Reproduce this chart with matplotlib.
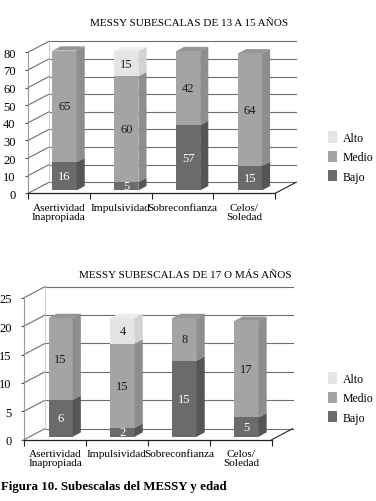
import matplotlib
matplotlib.use('Agg')
import matplotlib.pyplot as plt
from matplotlib.patches import Polygon, Patch

plt.rcParams['font.family'] = ['Liberation Serif', 'DejaVu Serif']

# ── datos ──────────────────────────────────────────────
categorias = ['Asertividad\nInapropiada', 'Impulsividad', 'Sobreconfianza', 'Celos/\nSoledad']
series = ['Bajo', 'Medio', 'Alto']

# 13 a 15 años (alturas, etiquetas tal como aparecen)
bajo_13 = [16, 4.7, 37, 13.9]
medio_13 = [63.3, 60, 42, 63.8]
alto_13 = [0, 14.3, 0, 0]
bajo_lbl_13 = ['16', '5', '57', '15']
medio_lbl_13 = ['65', '60', '42', '64']
alto_lbl_13 = ['', '15', '', '']
yticks_13 = [0, 10, 20, 30, 40, 50, 60, 70, 80]

# 17 o más años
bajo_17 = [6.5, 1.6, 13.4, 3.4]
medio_17 = [14.4, 14.8, 7.5, 17.0]
alto_17 = [0, 4.5, 0, 0]
bajo_lbl_17 = ['6', '2', '15', '5']
medio_lbl_17 = ['15', '15', '8', '17']
alto_lbl_17 = ['', '4', '', '']
yticks_17 = [0, 5, 10, 15, 20, 25]

# colores: (frente, lado, arriba)
COLORES = {
    'Bajo': ('#6b6b6b', '#555555', '#5e5e5e'),
    'Medio': ('#a4a4a4', '#8e8e8e', '#969696'),
    'Alto': ('#e5e5e5', '#d2d2d2', '#ededed'),
}
TXT_COLOR = {'Bajo': 'white', 'Medio': '#1a1a1a', 'Alto': '#1a1a1a'}

GRID = '#6e6e6e'
W = 0.39          # ancho de barra (unidades de categoría)
F1, F2 = 0.27, 0.66  # profundidad de la barra (fracción)
DX = 0.338        # desplazamiento oblicuo en x


def barra_3d(ax, x0, y0, y1, col, dy, top):
    xl, xr = x0 - W / 2, x0 + W / 2
    p = lambda x, y, f: (x + f * DX, y + f * dy)
    frente, lado, arriba = col
    ax.add_patch(Polygon([p(xl, y0, F1), p(xr, y0, F1), p(xr, y1, F1), p(xl, y1, F1)],
                         closed=True, facecolor=frente, edgecolor='none', zorder=3))
    ax.add_patch(Polygon([p(xr, y0, F1), p(xr, y0, F2), p(xr, y1, F2), p(xr, y1, F1)],
                         closed=True, facecolor=lado, edgecolor='none', zorder=3))
    if top:
        ax.add_patch(Polygon([p(xl, y1, F1), p(xr, y1, F1), p(xr, y1, F2), p(xl, y1, F2)],
                             closed=True, facecolor=arriba, edgecolor='none', zorder=3))


def grafico(ax, titulo, bajo, medio, alto, lbls, yticks, title_pad):
    ymax = yticks[-1]
    dy = 0.078 * ymax
    n = len(categorias)

    # paredes: rejilla del fondo y diagonales laterales
    for v in yticks:
        ax.plot([0, DX], [v, v + dy], color=GRID, lw=0.8, zorder=1, clip_on=False)
        ax.plot([DX, n + DX], [v + dy, v + dy], color=GRID, lw=0.8, zorder=1, clip_on=False)
    ax.plot([DX, DX], [dy, ymax + dy], color='#c8c8c8', lw=0.6, zorder=1)
    ax.plot([n, n + DX], [0, dy], color='#222222', lw=0.8, zorder=1, clip_on=False)

    valores = {'Bajo': bajo, 'Medio': medio, 'Alto': alto}
    for i in range(n):
        base = 0
        tops = [s for s in series if valores[s][i] > 0]
        for s in series:
            h = valores[s][i]
            if h <= 0:
                continue
            barra_3d(ax, i + 0.5, base, base + h, COLORES[s], dy, s == tops[-1])
            ax.text(i + 0.5 + F1 * DX, base + h / 2 + F1 * dy, lbls[s][i],
                    ha='center', va='center', fontsize=9, color=TXT_COLOR[s], zorder=4)
            base += h

    ax.set_xlim(0, n + DX)
    ax.set_ylim(0, ymax + dy)
    for side in ['top', 'right']:
        ax.spines[side].set_visible(False)
    ax.spines['left'].set_bounds(0, ymax)
    ax.spines['left'].set_color('#9a9a9a')
    ax.spines['bottom'].set_bounds(0, n)
    ax.spines['bottom'].set_color('#222222')
    ax.spines['bottom'].set_linewidth(0.9)

    ax.set_yticks(yticks)
    ax.tick_params(axis='y', length=2, pad=7, labelsize=9, color='#555555')
    ax.set_xticks(range(n + 1))
    ax.set_xticklabels([''] * (n + 1))
    ax.set_xticks([i + 0.5 for i in range(n)], minor=True)
    ax.set_xticklabels(categorias, minor=True, fontsize=8.1, linespacing=0.95)
    ax.tick_params(axis='x', which='major', length=4, direction='out', color='#222222')
    ax.tick_params(axis='x', which='minor', length=0, pad=7)
    ax.set_title(titulo, fontsize=8, pad=title_pad, x=0.6)

    handles = [Patch(facecolor=COLORES[s][0], edgecolor='none', label=s) for s in ['Alto', 'Medio', 'Bajo']]
    return handles


fig = plt.figure(figsize=(3.76, 5.02), dpi=100)
ax1 = fig.add_axes([0.0745, 0.6129, 0.7128, 0.3028])
ax2 = fig.add_axes([0.0638, 0.1221, 0.7146, 0.3048])

h = grafico(ax1, 'MESSY SUBESCALAS DE 13 A 15 AÑOS', bajo_13, medio_13, alto_13,
            {'Bajo': bajo_lbl_13, 'Medio': medio_lbl_13, 'Alto': alto_lbl_13}, yticks_13, 12)
grafico(ax2, 'MESSY SUBESCALAS DE 17 O MÁS AÑOS', bajo_17, medio_17, alto_17,
        {'Bajo': bajo_lbl_17, 'Medio': medio_lbl_17, 'Alto': alto_lbl_17}, yticks_17, 7)

for y in [1 - 158 / 502, 1 - 399 / 502]:
    fig.legend(handles=h, loc='center left', bbox_to_anchor=(323 / 376, y), frameon=False,
               fontsize=8.5, handlelength=0.8, handleheight=1.1, handletextpad=0.5,
               labelspacing=0.55, borderaxespad=0)

fig.text(0.003, 1 - 487 / 502, 'Figura 10. Subescalas del MESSY y edad',
         fontsize=9.3, fontweight='bold', ha='left', va='center')

fig.savefig('out.png', dpi=100)
